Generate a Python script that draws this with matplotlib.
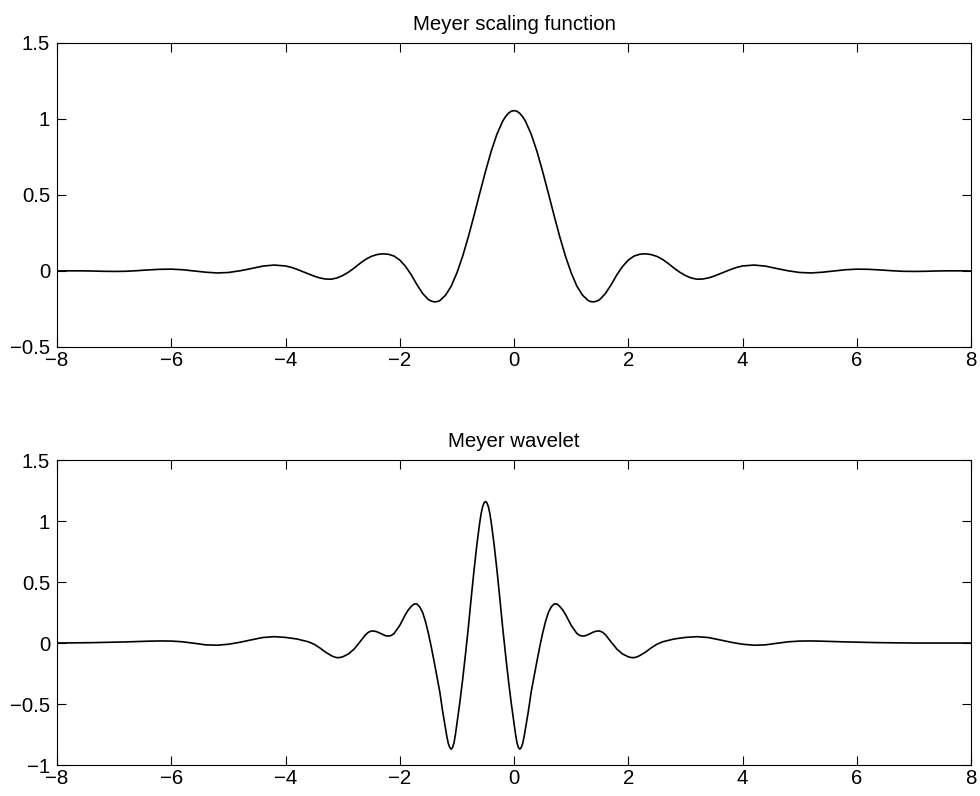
import numpy as np
import matplotlib
matplotlib.use("Agg")
from matplotlib import pyplot as plt
from matplotlib.ticker import FuncFormatter

# Meyer scaling function phi(t), sampled values
t_phi = [-8.0, -7.8, -7.6, -7.4, -7.2, -7.0, -6.8, -6.6, -6.4, -6.2,
         -6.0, -5.8, -5.6, -5.4, -5.2, -5.0, -4.8, -4.6, -4.4, -4.2,
         -4.0, -3.9, -3.8, -3.7, -3.6, -3.5, -3.4, -3.3, -3.2, -3.1,
         -3.0, -2.9, -2.8, -2.7, -2.6, -2.5, -2.4, -2.3, -2.2, -2.1,
         -2.0, -1.9, -1.8, -1.7, -1.6, -1.5, -1.4, -1.3, -1.2, -1.1,
         -1.0, -0.9, -0.8, -0.7, -0.6, -0.5, -0.4, -0.3, -0.2, -0.1,
         0.0,
         0.1, 0.2, 0.3, 0.4, 0.5, 0.6, 0.7, 0.8, 0.9, 1.0,
         1.1, 1.2, 1.3, 1.4, 1.5, 1.6, 1.7, 1.8, 1.9, 2.0,
         2.1, 2.2, 2.3, 2.4, 2.5, 2.6, 2.7, 2.8, 2.9, 3.0,
         3.1, 3.2, 3.3, 3.4, 3.5, 3.6, 3.7, 3.8, 3.9, 4.0,
         4.2, 4.4, 4.6, 4.8, 5.0, 5.2, 5.4, 5.6, 5.8, 6.0,
         6.2, 6.4, 6.6, 6.8, 7.0, 7.2, 7.4, 7.6, 7.8, 8.0]
phi = [0.000, 0.001, 0.001, 0.000, -0.002, -0.003, -0.002, 0.002, 0.007, 0.011,
       0.012, 0.008, 0.000, -0.008, -0.013, -0.010, 0.001, 0.016, 0.032, 0.039,
       0.033, 0.024, 0.011, -0.004, -0.019, -0.034, -0.046, -0.053, -0.054, -0.046,
       -0.030, -0.008, 0.019, 0.049, 0.076, 0.096, 0.108, 0.113, 0.110, 0.098,
       0.072, 0.030, -0.025, -0.090, -0.148, -0.188, -0.203, -0.195, -0.160, -0.100,
       -0.012, 0.097, 0.225, 0.366, 0.512, 0.655, 0.788, 0.900, 0.985, 1.037,
       1.055,
       1.037, 0.985, 0.900, 0.788, 0.655, 0.512, 0.366, 0.225, 0.097, -0.012,
       -0.100, -0.160, -0.195, -0.203, -0.188, -0.148, -0.090, -0.025, 0.030, 0.072,
       0.098, 0.110, 0.113, 0.108, 0.096, 0.076, 0.049, 0.019, -0.008, -0.030,
       -0.046, -0.054, -0.053, -0.046, -0.034, -0.019, -0.004, 0.011, 0.024, 0.033,
       0.039, 0.032, 0.016, 0.001, -0.010, -0.013, -0.008, 0.000, 0.008, 0.012,
       0.011, 0.007, 0.002, -0.002, -0.003, -0.002, 0.000, 0.001, 0.001, 0.000]
# extra readings around the peak and the two deepest troughs
t_phi_fine = [-1.45, -1.35, -0.15, -0.05, 0.05, 0.15, 1.35, 1.45]
phi_fine = [-0.198, -0.202, 1.015, 1.051, 1.051, 1.015, -0.202, -0.198]

# Meyer wavelet psi(t), sampled values
t_psi = [-8.0, -7.8, -7.6, -7.4, -7.2, -7.0, -6.8, -6.6, -6.4, -6.2, -6.0,
         -5.8, -5.6, -5.4, -5.2, -5.0, -4.8, -4.6, -4.4, -4.2, -4.0, -3.8,
         -3.6, -3.5, -3.4, -3.3, -3.2, -3.1, -3.0, -2.9, -2.8, -2.7,
         -2.6, -2.5, -2.4, -2.3, -2.2, -2.1, -2.0, -1.9, -1.8, -1.7,
         -1.6, -1.5, -1.4,
         -1.3, -1.25, -1.2, -1.15, -1.1, -1.05, -1.0, -0.95, -0.9, -0.85,
         -0.8, -0.75, -0.7, -0.65, -0.6, -0.55, -0.5, -0.45, -0.4, -0.35,
         -0.3, -0.25, -0.2, -0.15, -0.1, -0.05, 0.0, 0.05, 0.1, 0.15,
         0.2, 0.25, 0.3,
         0.4, 0.5, 0.6, 0.7, 0.8, 0.9, 1.0, 1.1, 1.2, 1.3,
         1.4, 1.5, 1.6, 1.7, 1.8, 1.9, 2.0, 2.1, 2.2, 2.3,
         2.4, 2.5, 2.6, 2.8, 3.0, 3.2, 3.4, 3.6, 3.8, 4.0,
         4.2, 4.4, 4.6, 4.8, 5.0, 5.2, 5.4, 5.6, 5.8, 6.0,
         6.2, 6.4, 6.6, 6.8, 7.0, 7.2, 7.4, 7.6, 7.8, 8.0]
psi = [0.000, 0.001, 0.002, 0.003, 0.005, 0.007, 0.009, 0.012, 0.015, 0.017, 0.016,
       0.010, -0.002, -0.015, -0.018, -0.010, 0.006, 0.026, 0.045, 0.052, 0.046, 0.033,
       0.010, -0.010, -0.040, -0.075, -0.103, -0.120, -0.113, -0.090, -0.050, 0.008,
       0.068, 0.098, 0.092, 0.070, 0.057, 0.078, 0.145, 0.235, 0.300, 0.320,
       0.250, 0.080, -0.150,
       -0.400, -0.560, -0.700, -0.825, -0.870, -0.815, -0.660, -0.490, -0.300, -0.090,
       0.130, 0.370, 0.600, 0.810, 0.990, 1.118, 1.160, 1.118, 0.990, 0.810,
       0.600, 0.370, 0.130, -0.090, -0.300, -0.490, -0.660, -0.815, -0.870, -0.825,
       -0.700, -0.560, -0.400,
       -0.150, 0.080, 0.250, 0.320, 0.300, 0.235, 0.145, 0.078, 0.057, 0.070,
       0.092, 0.098, 0.068, 0.008, -0.050, -0.090, -0.113, -0.120, -0.103, -0.075,
       -0.040, -0.010, 0.010, 0.033, 0.046, 0.052, 0.045, 0.026, 0.006, -0.010,
       -0.018, -0.015, -0.002, 0.010, 0.016, 0.017, 0.015, 0.012, 0.009, 0.007,
       0.005, 0.003, 0.002, 0.001, 0.000, 0.000, 0.000, 0.000, 0.000, 0.000]
# extra readings near the turning points of the wavelet
t_psi_fine = [-3.15, -3.05, -2.55, -2.45, -2.25, -2.15, -1.85, -1.75, -1.65,
              -1.55, -1.45, -1.35, -1.175, -1.125, -1.075, -1.025,
              -0.575, -0.525, -0.475, -0.425,
              0.025, 0.075, 0.125, 0.175, 0.35, 0.45, 0.55, 0.65, 0.75,
              0.85, 1.15, 1.25, 1.45, 1.55, 2.05, 2.15]
psi_fine = [-0.114, -0.119, 0.088, 0.098, 0.060, 0.062, 0.272, 0.320, 0.295,
            0.175, -0.030, -0.275, -0.770, -0.857, -0.855, -0.745,
            1.064, 1.149, 1.149, 1.064,
            -0.745, -0.855, -0.857, -0.770, -0.275, -0.030, 0.175, 0.295, 0.320,
            0.272, 0.062, 0.060, 0.098, 0.088, -0.119, -0.114]

x_ticks = [-8, -6, -4, -2, 0, 2, 4, 6, 8]
phi_yticks = [-0.5, 0, 0.5, 1, 1.5]
psi_yticks = [-1, -0.5, 0, 0.5, 1, 1.5]

plt.rcParams['font.family'] = ['Liberation Sans', 'DejaVu Sans']
plt.rcParams['font.size'] = 14.7


def merged(t, y, t_extra, y_extra):
    tt = np.array(t + t_extra)
    yy = np.array(y + y_extra)
    order = np.argsort(tt)
    return tt[order], yy[order]


def matlab_fmt(v, pos):
    return f"{v:g}".replace("-", "\u2212")


def setup(ax, yticks, title):
    ax.set_xlim(-8, 8)
    ax.set_ylim(yticks[0], yticks[-1])
    ax.set_xticks(x_ticks)
    ax.set_yticks(yticks)
    ax.xaxis.set_major_formatter(FuncFormatter(matlab_fmt))
    ax.yaxis.set_major_formatter(FuncFormatter(matlab_fmt))
    ax.tick_params(direction='in', top=True, right=True, length=6.5, width=0.8)
    ax.tick_params(axis='x', pad=3)
    ax.tick_params(axis='y', pad=5)
    for sp in ax.spines.values():
        sp.set_linewidth(0.8)
    ax.set_title(title, fontsize=14.7, pad=9.5)


fig = plt.figure(figsize=(9.8, 7.96), dpi=100)
ax1 = fig.add_axes([0.0582, 0.5641, 0.9327, 0.3819])
ax2 = fig.add_axes([0.0582, 0.0389, 0.9327, 0.3832])

tp, yp = merged(t_phi, phi, t_phi_fine, phi_fine)
ax1.plot(tp, yp, color='black', lw=1.2, solid_joinstyle='round')
setup(ax1, phi_yticks, "Meyer scaling function")

tw, yw = merged(t_psi, psi, t_psi_fine, psi_fine)
ax2.plot(tw, yw, color='black', lw=1.2, solid_joinstyle='round')
setup(ax2, psi_yticks, "Meyer wavelet")

fig.savefig("out.png", dpi=100)
